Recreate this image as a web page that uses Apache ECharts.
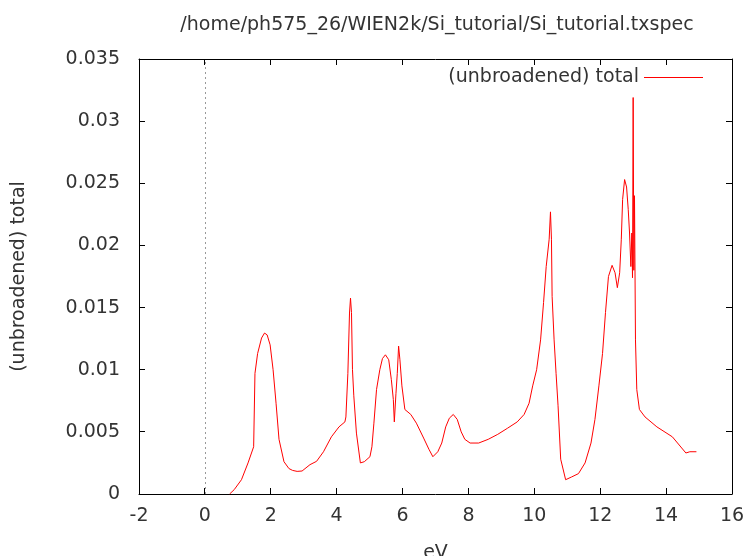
<!DOCTYPE html>
<html>
<head>
<meta charset="utf-8">
<script src="https://cdn.jsdelivr.net/npm/echarts@6/dist/echarts.min.js"></script>
<style>html,body{margin:0;padding:0;background:#fff}#c{width:746px;height:556px}</style>
</head>
<body>
<div id="c"></div>
<script>
const titleText = "/home/ph575_26/WIEN2k/Si_tutorial/Si_tutorial.txspec";
const seriesName = "(unbroadened) total";
const xName = "eV";
const yName = "(unbroadened) total";
const fermiLevel = 0;
const energy = [0.75,0.89,1.11,1.31,1.48,1.52,1.6,1.72,1.81,1.89,1.98,2.07,2.16,2.25,2.4,2.55,2.66,2.8,2.95,3.19,3.39,3.6,3.84,4.07,4.25,4.28,4.34,4.39,4.42,4.45,4.48,4.52,4.6,4.72,4.84,5.01,5.07,5.13,5.21,5.31,5.39,5.48,5.58,5.66,5.72,5.75,5.8,5.84,5.88,5.92,5.98,6.07,6.25,6.42,6.64,6.8,6.92,7.07,7.19,7.31,7.42,7.54,7.66,7.78,7.89,8.05,8.31,8.6,8.89,9.19,9.48,9.69,9.84,9.95,10.07,10.19,10.28,10.36,10.45,10.49,10.52,10.54,10.6,10.66,10.72,10.8,10.95,11.13,11.34,11.54,11.72,11.84,11.96,12.07,12.16,12.25,12.36,12.45,12.52,12.59,12.64,12.68,12.74,12.8,12.85,12.89,12.93,12.96,12.98,13.0,13.02,13.04,13.07,13.11,13.19,13.36,13.72,14.19,14.6,14.72,14.92];
const total = [0,0.00035,0.00115,0.0025,0.0038,0.0097,0.0113,0.01255,0.01295,0.0128,0.012,0.01,0.0073,0.0044,0.0026,0.00205,0.0019,0.00182,0.00185,0.00236,0.00263,0.0034,0.0046,0.0054,0.0058,0.0062,0.0097,0.01456,0.01576,0.0146,0.01,0.0079,0.0049,0.0025,0.0026,0.003,0.0038,0.0057,0.0084,0.01,0.0109,0.0112,0.0108,0.0092,0.0076,0.0058,0.0081,0.0097,0.0119,0.0108,0.0087,0.0068,0.0064,0.0057,0.0045,0.0036,0.003,0.0034,0.0041,0.0054,0.0061,0.0064,0.006,0.005,0.0044,0.0041,0.0041,0.0044,0.0048,0.0053,0.0058,0.0064,0.0073,0.0087,0.01,0.0124,0.0154,0.0183,0.0205,0.0227,0.0205,0.0159,0.0124,0.0097,0.0071,0.0028,0.00115,0.00137,0.00164,0.0025,0.0041,0.006,0.0087,0.0113,0.0146,0.0175,0.0184,0.0178,0.0166,0.0178,0.0205,0.0237,0.0253,0.0247,0.0229,0.021,0.0183,0.021,0.0174,0.0319,0.018,0.024,0.0124,0.0084,0.0068,0.0062,0.0054,0.0046,0.0033,0.0034,0.0034];
const xTicks = [-2, 0, 2, 4, 6, 8, 10, 12, 14, 16];
const yTicks = [0, 0.005, 0.01, 0.015, 0.02, 0.025, 0.03, 0.035];
const xMin = -2, xMax = 16, xStep = 2;
const yMin = 0, yMax = 0.035, yStep = 0.005;

const font = "DejaVu Sans";
const txt = "#333";
const fs = 19;
const tickLen = 6;
const chart = echarts.init(document.getElementById('c'));
function axisCommon() {
  return {
    axisLine: {show: true, onZero: false, lineStyle: {color: '#000', width: 1}},
    axisTick: {show: false},
    splitLine: {show: false}
  };
}
function tickRect(x, y, w, h) {
  return {type: 'rect', shape: {x: x, y: y, width: w, height: h}, style: {fill: '#000'}};
}
chart.setOption({
  animation: false,
  backgroundColor: '#fff',
  title: {text: titleText, left: 432, top: 11, textAlign: 'center',
    textStyle: {fontFamily: font, fontSize: fs, fontWeight: 'normal', color: txt}},
  legend: {show: true, right: 38, top: 63, itemWidth: 59, itemHeight: 1, itemGap: 12,
    align: 'right',
    textStyle: {fontFamily: font, fontSize: fs, color: txt},
    data: [{name: seriesName, icon: 'rect'}]},
  grid: {left: 139, right: 14, top: 59, bottom: 62, containLabel: false, outerBoundsMode: 'none'},
  xAxis: [
    Object.assign({type: 'value', min: xMin, max: xMax, interval: xStep, position: 'bottom',
      name: xName, nameLocation: 'middle', nameGap: 50,
      nameTextStyle: {fontFamily: font, fontSize: fs, color: txt},
      axisLabel: {fontFamily: font, fontSize: fs, color: txt, margin: 13}}, axisCommon()),
    Object.assign({type: 'value', min: xMin, max: xMax, interval: xStep, position: 'top',
      axisLabel: {show: false}}, axisCommon())
  ],
  yAxis: [
    Object.assign({type: 'value', min: yMin, max: yMax, interval: yStep, position: 'left',
      name: yName, nameLocation: 'middle', nameGap: 110, nameRotate: 90,
      nameTextStyle: {fontFamily: font, fontSize: fs, color: txt},
      axisLabel: {fontFamily: font, fontSize: fs, color: txt, margin: 19,
        formatter: v => String(+v.toFixed(3))}}, axisCommon()),
    Object.assign({type: 'value', min: yMin, max: yMax, interval: yStep, position: 'right',
      axisLabel: {show: false}}, axisCommon())
  ],
  series: [{
    name: seriesName, type: 'line', showSymbol: false, symbol: 'none',
    xAxisIndex: 0, yAxisIndex: 0,
    lineStyle: {color: '#ff0000', width: 1}, itemStyle: {color: '#ff0000'},
    data: energy.map((e, i) => [e, total[i]]),
    markLine: {silent: true, symbol: 'none', label: {show: false},
      lineStyle: {color: '#999', type: [2, 3], width: 1},
      data: [{xAxis: fermiLevel}]}
  }, {
    name: 'xticks', type: 'custom', silent: true, clip: false, z: 5,
    xAxisIndex: 0, yAxisIndex: 0,
    data: xTicks.map(v => [v, yMin]),
    renderItem: function (params, api) {
      const v = api.value(0);
      const b = api.coord([v, yMin]), t = api.coord([v, yMax]);
      const x = Math.round(b[0] - 0.5);
      return {type: 'group', children: [
        tickRect(x, b[1] - tickLen, 1, tickLen),
        tickRect(x, t[1], 1, tickLen)
      ]};
    }
  }, {
    name: 'yticks', type: 'custom', silent: true, clip: false, z: 5,
    xAxisIndex: 0, yAxisIndex: 0,
    data: yTicks.map(v => [xMin, v]),
    renderItem: function (params, api) {
      const v = api.value(1);
      const l = api.coord([xMin, v]), r = api.coord([xMax, v]);
      const y = Math.round(l[1] - 0.5);
      return {type: 'group', children: [
        tickRect(l[0], y, tickLen, 1),
        tickRect(r[0] - tickLen, y, tickLen, 1)
      ]};
    }
  }]
});
</script>
</body>
</html>
